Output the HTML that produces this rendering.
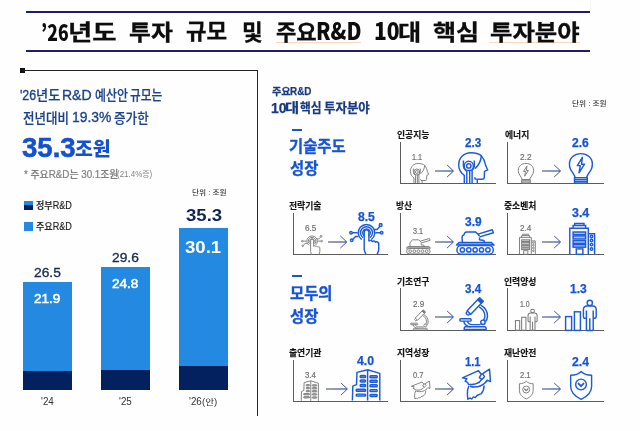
<!DOCTYPE html>
<html lang="ko"><head><meta charset="utf-8"><title>'26년도 투자 규모 및 주요R&amp;D 10대 핵심 투자분야</title>
<style>
html,body{margin:0;padding:0}
body{width:640px;height:431px;position:relative;overflow:hidden;background:#fefefe;font-family:"Liberation Sans","Noto Sans CJK KR",sans-serif}
.t{position:absolute;white-space:pre;transform-origin:0 0;margin:0}
h1,h2,section{margin:0;padding:0;font:inherit;display:contents}
.r{position:absolute}
svg{position:absolute;overflow:visible}
</style></head>
<body>
<div class="r" style="left:17px;top:0;width:573px;height:9px;background:#fff;border-right:1px solid #f4f4f4"></div>
<div class="r" style="left:26px;top:11px;width:564px;height:2px;background:#1d1d6b"></div>
<div class="r" style="left:26px;top:50px;width:564px;height:2px;background:#1d1d6b"></div>
<div class="r" style="left:276px;top:42px;width:85px;height:1px;background:#f6dcc4"></div>
<div class="r" style="left:489px;top:42px;width:91px;height:1px;background:#f6dcc4"></div>
<!-- left panel frame -->
<div class="r" style="left:19.5px;top:68px;width:5px;height:5px;background:#111"></div>
<div class="r" style="left:22px;top:70px;width:236px;height:1px;background:#222"></div>
<div class="r" style="left:257px;top:70px;width:1px;height:346px;background:#222"></div>
<!-- legend -->
<div class="r" style="left:24px;top:201px;width:9px;height:9px;background:linear-gradient(#2489e0 0,#2489e0 40%,#03205f 40%,#03205f 100%)"></div>
<div class="r" style="left:24px;top:222px;width:9px;height:9px;background:#2489e0"></div>
<!-- bars -->
<div class="r" style="left:22.5px;top:282px;width:49.5px;height:108px;background:#2489e0"></div>
<div class="r" style="left:22.5px;top:370.5px;width:49.5px;height:19.5px;background:#03205f"></div>
<div class="r" style="left:101px;top:267px;width:49px;height:123px;background:#2489e0"></div>
<div class="r" style="left:101px;top:369.5px;width:49px;height:20.5px;background:#03205f"></div>
<div class="r" style="left:179px;top:228px;width:49px;height:162px;background:#2489e0"></div>
<div class="r" style="left:179px;top:365.5px;width:49px;height:24.5px;background:#03205f"></div>
<!-- category dashes -->
<div class="r" style="left:292px;top:128.5px;width:10px;height:2px;background:#1755d5"></div>
<div class="r" style="left:292.2px;top:274.8px;width:9.8px;height:2px;background:#1755d5"></div>
<div class="r" style="left:399.9px;top:142px;width:1px;height:41.7px;background:#5c5c5c"></div>
<div class="r" style="left:399.9px;top:182.7px;width:96.1px;height:1px;background:#5c5c5c"></div>
<svg style="left:435.1px;top:163.55px" width="19.5" height="14" viewBox="0 0 19.5 14"><rect x="0" y="6.45" width="17.9" height="1.1" fill="url(#ag)"/><path d="M12.0,0.9 L18.5,7 L12.0,13.1" fill="none" stroke="url(#ag2)" stroke-width="0.95"/></svg>
<div class="r" style="left:507.2px;top:142px;width:1px;height:41.7px;background:#5c5c5c"></div>
<div class="r" style="left:507.2px;top:182.7px;width:96.8px;height:1px;background:#5c5c5c"></div>
<svg style="left:542.4px;top:163.55px" width="19.6" height="14" viewBox="0 0 19.6 14"><rect x="0" y="6.45" width="18.0" height="1.1" fill="url(#ag)"/><path d="M12.1,0.9 L18.6,7 L12.1,13.1" fill="none" stroke="url(#ag2)" stroke-width="0.95"/></svg>
<div class="r" style="left:293.1px;top:213px;width:1px;height:42.1px;background:#5c5c5c"></div>
<div class="r" style="left:293.1px;top:254.1px;width:95.4px;height:1px;background:#5c5c5c"></div>
<svg style="left:328.2px;top:234.65px" width="19.8" height="14" viewBox="0 0 19.8 14"><rect x="0" y="6.45" width="18.2" height="1.1" fill="url(#ag)"/><path d="M12.3,0.9 L18.8,7 L12.3,13.1" fill="none" stroke="url(#ag2)" stroke-width="0.95"/></svg>
<div class="r" style="left:399.9px;top:213px;width:1px;height:42.1px;background:#5c5c5c"></div>
<div class="r" style="left:399.9px;top:254.1px;width:96.1px;height:1px;background:#5c5c5c"></div>
<svg style="left:435.1px;top:234.65px" width="19.5" height="14" viewBox="0 0 19.5 14"><rect x="0" y="6.45" width="17.9" height="1.1" fill="url(#ag)"/><path d="M12.0,0.9 L18.5,7 L12.0,13.1" fill="none" stroke="url(#ag2)" stroke-width="0.95"/></svg>
<div class="r" style="left:507.2px;top:213px;width:1px;height:42.1px;background:#5c5c5c"></div>
<div class="r" style="left:507.2px;top:254.1px;width:96.8px;height:1px;background:#5c5c5c"></div>
<svg style="left:542.4px;top:234.65px" width="19.6" height="14" viewBox="0 0 19.6 14"><rect x="0" y="6.45" width="18.0" height="1.1" fill="url(#ag)"/><path d="M12.1,0.9 L18.6,7 L12.1,13.1" fill="none" stroke="url(#ag2)" stroke-width="0.95"/></svg>
<div class="r" style="left:399.9px;top:288.2px;width:1px;height:42.6px;background:#5c5c5c"></div>
<div class="r" style="left:399.9px;top:329.8px;width:96.1px;height:1px;background:#5c5c5c"></div>
<svg style="left:435.1px;top:310.35px" width="19.5" height="14" viewBox="0 0 19.5 14"><rect x="0" y="6.45" width="17.9" height="1.1" fill="url(#ag)"/><path d="M12.0,0.9 L18.5,7 L12.0,13.1" fill="none" stroke="url(#ag2)" stroke-width="0.95"/></svg>
<div class="r" style="left:507.2px;top:288.2px;width:1px;height:42.6px;background:#5c5c5c"></div>
<div class="r" style="left:507.2px;top:329.8px;width:96.8px;height:1px;background:#5c5c5c"></div>
<svg style="left:542.4px;top:310.35px" width="19.6" height="14" viewBox="0 0 19.6 14"><rect x="0" y="6.45" width="18.0" height="1.1" fill="url(#ag)"/><path d="M12.1,0.9 L18.6,7 L12.1,13.1" fill="none" stroke="url(#ag2)" stroke-width="0.95"/></svg>
<div class="r" style="left:293.1px;top:360px;width:1px;height:41.9px;background:#5c5c5c"></div>
<div class="r" style="left:293.1px;top:400.9px;width:95.4px;height:1px;background:#5c5c5c"></div>
<svg style="left:325.6px;top:381.6px" width="22.4" height="14" viewBox="0 0 22.4 14"><rect x="0" y="6.45" width="20.8" height="1.1" fill="url(#ag)"/><path d="M14.9,0.9 L21.4,7 L14.9,13.1" fill="none" stroke="url(#ag2)" stroke-width="0.95"/></svg>
<div class="r" style="left:399.9px;top:360px;width:1px;height:41.9px;background:#5c5c5c"></div>
<div class="r" style="left:399.9px;top:400.9px;width:96.1px;height:1px;background:#5c5c5c"></div>
<svg style="left:435.1px;top:381.6px" width="19.5" height="14" viewBox="0 0 19.5 14"><rect x="0" y="6.45" width="17.9" height="1.1" fill="url(#ag)"/><path d="M12.0,0.9 L18.5,7 L12.0,13.1" fill="none" stroke="url(#ag2)" stroke-width="0.95"/></svg>
<div class="r" style="left:507.2px;top:360px;width:1px;height:41.9px;background:#5c5c5c"></div>
<div class="r" style="left:507.2px;top:400.9px;width:96.8px;height:1px;background:#5c5c5c"></div>
<svg style="left:542.4px;top:381.6px" width="19.6" height="14" viewBox="0 0 19.6 14"><rect x="0" y="6.45" width="18.0" height="1.1" fill="url(#ag)"/><path d="M12.1,0.9 L18.6,7 L12.1,13.1" fill="none" stroke="url(#ag2)" stroke-width="0.95"/></svg>
<svg width="0" height="0" style="position:absolute"><defs><symbol id="i-ai" viewBox="0 0 30 31" preserveAspectRatio="none" overflow="visible"><g fill="none" stroke="currentColor">
<path d="M6.3,23.2 C2.6,20.8 0.7,17 0.7,13 C0.7,5.6 6,0.7 13,0.7 C17.2,0.7 21,1.7 23.3,3.6 C25.6,6.4 27,9.8 27.5,13 L29.6,17.8 L26.5,19.4 L26.3,25.6 Q26.1,27.2 24,27.2 L17.3,27 L16.6,25.3"/>
<path d="M19.3,27.3 V31"/>
<path d="M23.3,3.6 C23,9 20.6,13.4 17,16.6"/>
<circle cx="10.8" cy="13.9" r="4.6"/><circle cx="10.8" cy="13.9" r="2.2"/>
<path d="M5.4,8.6 V14.2 C5.6,16.4 6.8,18 8.2,19 M16.3,8.6 V14.2 C16.1,16.4 14.9,18 13.5,19"/>
<path d="M6.3,23 V31 M8.8,19 V31 M11.7,18.6 V31 M14.1,18.6 V31"/>
</g></symbol><symbol id="i-bulb" viewBox="0 0 23.8 30.7" preserveAspectRatio="none" overflow="visible"><g fill="none" stroke="currentColor">
<path d="M5.9,24.6 V23.7 C4.7,20.4 2.3,18.4 1.2,15.4 C0.6,13.8 0.45,12.2 0.45,10.9 C0.45,4.9 5.4,0.6 11.9,0.6 C18.4,0.6 23.35,4.9 23.35,10.9 C23.35,12.2 23.2,13.8 22.6,15.4 C21.5,18.4 19.1,20.4 17.9,23.7 V24.6"/>
<path d="M5.5,24.7 H18.3 V30.2 H5.5 Z M5.5,26.6 H18.3 M5.5,28.5 H18.3" />
<path d="M13.4,4.4 L8.3,12.6 H11.3 L10,19.8 L15.5,11.2 H12.5 Z" stroke-linejoin="round"/>
</g></symbol><symbol id="i-touch" viewBox="0 0 34.7 31.6" preserveAspectRatio="none" overflow="visible"><g fill="none" stroke="currentColor"><path d="M12.74,16.60 A8.3,8.3 0 1 1 22.26,16.60"/><path d="M14.06,14.71 A6.0,6.0 0 1 1 20.94,14.71"/><path d="M15.32,12.91 A3.8,3.8 0 1 1 19.68,12.91"/>
<path d="M15.2,26.5 V9.2 A2.35,2.35 0 0 1 19.9,9.2 V18 C21,17 22.7,17.2 23.2,18.6 C24.3,17.6 25.9,17.9 26.4,19.2 C27.6,18.4 29.7,18.9 29.7,20.8 V26.5 C29.7,28.3 28.8,29.6 28.2,31.2 M15.2,26.5 C15.4,28.2 16.2,29.8 16.9,31.2" stroke-linejoin="round"/>
<path d="M3.2,9.8 H8.6 M26.2,9.8 H31.4 M3.6,16.4 L6.6,13.4 H9.4 M25,6.4 H28 L30.8,3.4"/>
<circle cx="2" cy="9.8" r="1.25"/><circle cx="32.7" cy="9.8" r="1.25"/><circle cx="2.7" cy="17.3" r="1.25"/><rect x="30.4" y="0.8" width="2.5" height="2.5" rx="0.6"/>
</g></symbol><symbol id="i-tank" viewBox="0 0 39 25.2" preserveAspectRatio="none" overflow="visible"><g fill="none" stroke="currentColor"><rect x="0.9" y="16.6" width="36.4" height="8.6" rx="4.3"/><circle cx="6.4" cy="20.9" r="2.15"/><circle cx="12.8" cy="20.9" r="2.15"/><circle cx="19.1" cy="20.9" r="2.15"/><circle cx="25.5" cy="20.9" r="2.15"/><circle cx="31.9" cy="20.9" r="2.15"/>
<path d="M0.5,16 L3,13.5 H35.4 L38,16 Z" stroke-linejoin="round" fill="currentColor" fill-opacity="0.45"/>
<path d="M6.4,13.4 L6,8 Q6.2,6.6 7.8,6 L8.8,3.9 Q9.4,2.9 10.6,2.9 H19.4 L21.6,4.8 L23.6,7.2 M23.5,8.4 V10.8 L27.9,11.5 L28.6,13.4" stroke-linejoin="round"/>
<path d="M22,5.1 L36.3,0.8 L37.4,3.7 L23.7,7.9" stroke-linejoin="round"/>
</g></symbol><symbol id="i-bldg1" viewBox="0 0 25.9 31.6" preserveAspectRatio="none" overflow="visible"><g fill="none" stroke="currentColor">
<path d="M0.8,31.3 V5.2 H19.3 V31.3 M4.1,5.2 V2.5 H16.6 V5.2 M5.7,2.5 V0.4 H15 V2.5"/>
<path d="M19.3,10.7 H25.6 V31.3"/>
<rect x="7.3" y="25.9" width="6.6" height="5.4"/>
<rect x="4.1" y="9" width="12.5" height="2.7" fill="currentColor" fill-opacity="0.35"/><rect x="4.1" y="12.9" width="12.5" height="3.1" fill="currentColor" fill-opacity="0.35"/><rect x="4.1" y="17.6" width="12.5" height="2.8" fill="currentColor" fill-opacity="0.35"/><rect x="4.1" y="21.6" width="12.5" height="2.6" fill="currentColor" fill-opacity="0.35"/><circle cx="22.5" cy="13.4" r="1.25"/><circle cx="22.5" cy="17.4" r="1.25"/><circle cx="22.5" cy="21.6" r="1.25"/><circle cx="22.5" cy="26" r="1.25"/></g></symbol><symbol id="i-micro" viewBox="0 0 29.5 31.8" preserveAspectRatio="none" overflow="visible"><g fill="none" stroke="currentColor">
<path d="M8.1,12.7 L18.8,1.6 L22.5,5.1 L11.8,16.2 Z" stroke-linejoin="round"/>
<path d="M18.8,1.6 L20.6,-0.2 L24.3,3.3 L22.5,5.1 Z" fill="currentColor" stroke-linejoin="round"/>
<path d="M8.6,13.2 L7.3,14.6 Q6.9,15.6 7.9,16.5 Q8.9,17.3 9.8,16.9 L11.2,15.6" />
<path d="M21.6,7.2 C26,9.5 28.6,14 28.4,18.6 C28.3,20.6 27.6,22.4 26.3,23.6 M20,8.9 C23.6,10.8 25.9,14.4 25.8,18.4 C25.8,19.8 25.3,21.2 24.4,22.2"/>
<circle cx="23.9" cy="24.3" r="2.2"/>
<rect x="0.9" y="20.8" width="11.2" height="2.3" rx="0.8"/>
<path d="M4.6,23.1 C5.4,26.5 8.4,28.7 12,28.7 M8.4,23.1 C9,25.3 10.8,26.6 13.2,26.6 H21.6"/>
<path d="M6.6,28.8 H25.6 Q27,28.8 27,30.2 V31.4 H5.2 V30.2 Q5.2,28.8 6.6,28.8 Z"/>
</g></symbol><symbol id="i-people" viewBox="0 0 32.3 30.8" preserveAspectRatio="none" overflow="visible"><g fill="none" stroke="currentColor">
<rect x="0.6" y="16.6" width="6" height="13.8"/>
<rect x="9.4" y="11.8" width="6" height="18.6"/>
<circle cx="24.8" cy="2.9" r="2.6"/>
<path d="M21.4,30.4 V17.6 V10.6 M21.4,17.8 C20.6,18.6 18.4,18.6 18.4,16.4 V9.8 C18.4,7.2 20,5.9 22,5.9 H27.6 C29.6,5.9 31.2,7.2 31.2,9.8 V16.4 C31.2,18.6 29,18.6 28.2,17.8 M28.2,10.6 V30.4 M24.8,18.2 V30.4 M21.4,30.4 H24.8 M24.8,30.4 H28.2" stroke-linejoin="round"/>
</g></symbol><symbol id="i-bldg2" viewBox="0 0 28.4 30.8" preserveAspectRatio="none" overflow="visible"><g fill="none" stroke="currentColor">
<path d="M15.6,-0.3 V30.6 M15.6,-0.3 L5,2.4 L4.5,14.6 L0.8,16.2 L0.4,30.6 M15.6,-0.3 L27.8,3.4 V30.6" stroke-linejoin="round"/>
<rect x="8.2" y="5.5" width="5.4" height="2" rx="0.8" fill="currentColor" fill-opacity="0.55"/><rect x="18" y="5.800000000000001" width="7.2" height="2" rx="0.8" fill="currentColor" fill-opacity="0.55"/><rect x="8.2" y="9.9" width="5.4" height="2" rx="0.8" fill="currentColor" fill-opacity="0.55"/><rect x="18" y="10.200000000000001" width="7.2" height="2" rx="0.8" fill="currentColor" fill-opacity="0.55"/><rect x="8.2" y="14.5" width="5.4" height="2" rx="0.8" fill="currentColor" fill-opacity="0.55"/><rect x="18" y="14.8" width="7.2" height="2" rx="0.8" fill="currentColor" fill-opacity="0.55"/><rect x="4.2" y="19.3" width="9.4" height="2" rx="0.8" fill="currentColor" fill-opacity="0.55"/><rect x="18" y="19.599999999999998" width="7.2" height="2" rx="0.8" fill="currentColor" fill-opacity="0.55"/><rect x="4.2" y="24.1" width="9.4" height="2" rx="0.8" fill="currentColor" fill-opacity="0.55"/><rect x="18" y="24.4" width="7.2" height="2" rx="0.8" fill="currentColor" fill-opacity="0.55"/></g></symbol><symbol id="i-map" viewBox="0 0 28.9 31" preserveAspectRatio="none" overflow="visible"><g fill="none" stroke="currentColor">
<path d="M6.4,15.6 L5.8,13.6 L3.1,12.2 L4.9,9.8 L0.4,8.9 L16.5,1.7 L19.3,5.2 L17.4,8.6 L19.8,10.3 C17.6,14.2 12,16.4 6.4,15.2" stroke-linejoin="round"/>
<path d="M19.3,5.2 L20.7,4.7 L27.6,0.2 L28.5,12.6 L25.2,11.2 C22.6,16.2 15,19.6 8,17.2 M20.7,4.7 L22.5,7.6 C21.8,8.8 20.9,9.8 19.8,10.6" stroke-linejoin="round"/>
<path d="M6.9,16.8 C5.8,19.4 5.2,22.6 5.4,25 L5.8,30.2 L8.2,29 L9.6,30 L11.4,27.9 L13.3,28.6 L15.1,26.5 L19.3,24.7 C21.2,22.6 22.1,20 22.1,16.6" stroke-linejoin="round"/>
</g></symbol><symbol id="i-shield" viewBox="0 0 22.9 29.4" preserveAspectRatio="none" overflow="visible"><g fill="none" stroke="currentColor">
<path d="M11.45,0.5 C9,3 5,4.4 0.7,4.4 V15.6 C0.7,21.6 5,26 11.45,29 C17.9,26 22.2,21.6 22.2,15.6 V4.4 C17.9,4.4 13.9,3 11.45,0.5 Z" stroke-linejoin="round"/>
<circle cx="11.3" cy="13.8" r="5.5"/>
<path d="M8.7,12.9 L11.3,15.6 L13.9,12.9" stroke-linejoin="round" stroke-linecap="round" stroke-width="1.9"/>
</g></symbol><linearGradient id="ag" x1="0" x2="1" y1="0" y2="0"><stop offset="0" stop-color="#555"/><stop offset="0.5" stop-color="#2f4a88"/><stop offset="1" stop-color="#1d3f98"/></linearGradient><linearGradient id="ag2" x1="0" x2="1" y1="0" y2="0"><stop offset="0" stop-color="#5a5f6e"/><stop offset="1" stop-color="#1d3f98"/></linearGradient></defs></svg>
<svg class="ic" style="left:409.80px;top:163.00px;color:#7a7a7a;stroke-width:1.45" width="18.90" height="20.00"><use href="#i-ai" width="18.90" height="20.00"/></svg>
<svg class="ic" style="left:458.00px;top:152.00px;color:#1d5bd8;stroke-width:1.45" width="30.00" height="31.00"><use href="#i-ai" width="30.00" height="31.00"/></svg>
<svg class="ic" style="left:517.80px;top:162.60px;color:#7a7a7a;stroke-width:1.45" width="15.90" height="20.50"><use href="#i-bulb" width="15.90" height="20.50"/></svg>
<svg class="ic" style="left:568.90px;top:152.60px;color:#1d5bd8;stroke-width:1.45" width="23.80" height="30.70"><use href="#i-bulb" width="23.80" height="30.70"/></svg>
<svg class="ic" style="left:301.00px;top:235.00px;color:#7a7a7a;stroke-width:1.45" width="22.00" height="19.80"><use href="#i-touch" width="22.00" height="19.80"/></svg>
<svg class="ic" style="left:348.70px;top:223.40px;color:#1d5bd8;stroke-width:1.45" width="34.70" height="31.60"><use href="#i-touch" width="34.70" height="31.60"/></svg>
<svg class="ic" style="left:405.80px;top:238.00px;color:#7a7a7a;stroke-width:1.45" width="25.20" height="15.90"><use href="#i-tank" width="25.20" height="15.90"/></svg>
<svg class="ic" style="left:456.00px;top:229.40px;color:#1d5bd8;stroke-width:1.45" width="39.00" height="25.20"><use href="#i-tank" width="39.00" height="25.20"/></svg>
<svg class="ic" style="left:519.00px;top:234.00px;color:#7a7a7a;stroke-width:1.45" width="16.50" height="20.40"><use href="#i-bldg1" width="16.50" height="20.40"/></svg>
<svg class="ic" style="left:569.00px;top:223.20px;color:#1d5bd8;stroke-width:1.45" width="25.90" height="31.60"><use href="#i-bldg1" width="25.90" height="31.60"/></svg>
<svg class="ic" style="left:409.80px;top:310.00px;color:#7a7a7a;stroke-width:1.45" width="18.90" height="20.20"><use href="#i-micro" width="18.90" height="20.20"/></svg>
<svg class="ic" style="left:458.75px;top:298.40px;color:#1d5bd8;stroke-width:1.45" width="29.55" height="31.80"><use href="#i-micro" width="29.55" height="31.80"/></svg>
<svg class="ic" style="left:515.00px;top:308.70px;color:#7a7a7a;stroke-width:1.45" width="22.90" height="21.50"><use href="#i-people" width="22.90" height="21.50"/></svg>
<svg class="ic" style="left:565.00px;top:299.50px;color:#1d5bd8;stroke-width:1.45" width="32.30" height="30.80"><use href="#i-people" width="32.30" height="30.80"/></svg>
<svg class="ic" style="left:301.25px;top:381.20px;color:#7a7a7a;stroke-width:1.45" width="17.75" height="20.00"><use href="#i-bldg2" width="17.75" height="20.00"/></svg>
<svg class="ic" style="left:351.60px;top:370.40px;color:#1d5bd8;stroke-width:1.45" width="28.40" height="30.80"><use href="#i-bldg2" width="28.40" height="30.80"/></svg>
<svg class="ic" style="left:410.60px;top:381.20px;color:#7a7a7a;stroke-width:1.45" width="19.30" height="18.40"><use href="#i-map" width="19.30" height="18.40"/></svg>
<svg class="ic" style="left:461.75px;top:369.00px;color:#1d5bd8;stroke-width:1.45" width="28.85" height="31.00"><use href="#i-map" width="28.85" height="31.00"/></svg>
<svg class="ic" style="left:518.60px;top:380.70px;color:#7a7a7a;stroke-width:1.45" width="14.60" height="18.20"><use href="#i-shield" width="14.60" height="18.20"/></svg>
<svg class="ic" style="left:569.90px;top:371.20px;color:#1d5bd8;stroke-width:1.45" width="22.30" height="28.70"><use href="#i-shield" width="22.30" height="28.70"/></svg>
<h1>
<span class="t" style="left:40.53px;top:20.06px;font:900 22.04px/1 'Noto Sans CJK KR','Liberation Sans',sans-serif;color:#0d0d0d;transform:scaleX(0.798);">’26</span>
<span class="t" style="left:67.80px;top:22.24px;font:700 21.63px/1 'Liberation Sans','Noto Sans CJK KR',sans-serif;color:#0d0d0d;transform:scaleX(1.220);-webkit-text-stroke:0.3px currentColor;">년도</span>
<span class="t" style="left:129.21px;top:21.88px;font:700 21.63px/1 'Liberation Sans','Noto Sans CJK KR',sans-serif;color:#0d0d0d;transform:scaleX(1.102);-webkit-text-stroke:0.3px currentColor;">투자</span>
<span class="t" style="left:186.25px;top:21.34px;font:700 21.63px/1 'Liberation Sans','Noto Sans CJK KR',sans-serif;color:#0d0d0d;transform:scaleX(1.033);-webkit-text-stroke:0.3px currentColor;">규모</span>
<span class="t" style="left:241.88px;top:22.06px;font:700 21.63px/1 'Liberation Sans','Noto Sans CJK KR',sans-serif;color:#0d0d0d;transform:scaleX(1.040);-webkit-text-stroke:0.3px currentColor;">및</span>
<span class="t" style="left:275.76px;top:21.52px;font:700 21.63px/1 'Liberation Sans','Noto Sans CJK KR',sans-serif;color:#0d0d0d;transform:scaleX(1.023);-webkit-text-stroke:0.3px currentColor;">주요</span>
<span class="t" style="left:315.88px;top:19.11px;font:900 23.36px/1 'Noto Sans CJK KR','Liberation Sans',sans-serif;color:#0d0d0d;transform:scaleX(0.882);">R&amp;D</span>
<span class="t" style="left:373.64px;top:18.94px;font:900 23.22px/1 'Noto Sans CJK KR','Liberation Sans',sans-serif;color:#0d0d0d;transform:scaleX(0.908);">10</span>
<span class="t" style="left:397.92px;top:22.06px;font:700 21.63px/1 'Liberation Sans','Noto Sans CJK KR',sans-serif;color:#0d0d0d;transform:scaleX(1.164);-webkit-text-stroke:0.3px currentColor;">대</span>
<span class="t" style="left:432.91px;top:22.06px;font:700 21.63px/1 'Liberation Sans','Noto Sans CJK KR',sans-serif;color:#0d0d0d;transform:scaleX(1.162);-webkit-text-stroke:0.3px currentColor;">핵심</span>
<span class="t" style="left:489.79px;top:21.88px;font:700 21.63px/1 'Liberation Sans','Noto Sans CJK KR',sans-serif;color:#0d0d0d;transform:scaleX(1.127);-webkit-text-stroke:0.3px currentColor;">투자분야</span>
</h1>
<section>
<span class="t" style="left:19.98px;top:87.96px;font:400 14.93px/1 'Liberation Sans','Noto Sans CJK KR',sans-serif;color:#1c428c;transform:scaleX(0.832);-webkit-text-stroke:0.35px currentColor;">'26</span>
<span class="t" style="left:35.68px;top:89.29px;font:500 13.58px/1 'Liberation Sans','Noto Sans CJK KR',sans-serif;color:#1c428c;transform:scaleX(0.974);-webkit-text-stroke:0.2px currentColor;">년도</span>
<span class="t" style="left:62.03px;top:87.96px;font:400 14.93px/1 'Liberation Sans','Noto Sans CJK KR',sans-serif;color:#1c428c;transform:scaleX(0.939);-webkit-text-stroke:0.35px currentColor;">R&amp;D</span>
<span class="t" style="left:94.90px;top:89.29px;font:500 13.58px/1 'Liberation Sans','Noto Sans CJK KR',sans-serif;color:#1c428c;transform:scaleX(0.878);-webkit-text-stroke:0.2px currentColor;">예산안</span>
<span class="t" style="left:130.41px;top:88.95px;font:500 13.58px/1 'Liberation Sans','Noto Sans CJK KR',sans-serif;color:#1c428c;transform:scaleX(0.864);-webkit-text-stroke:0.2px currentColor;">규모는</span>
<span class="t" style="left:23.12px;top:111.67px;font:500 13.58px/1 'Liberation Sans','Noto Sans CJK KR',sans-serif;color:#1c428c;transform:scaleX(0.920);-webkit-text-stroke:0.2px currentColor;">전년대비</span>
<span class="t" style="left:72.04px;top:110.46px;font:400 14.93px/1 'Liberation Sans','Noto Sans CJK KR',sans-serif;color:#1c428c;transform:scaleX(0.932);-webkit-text-stroke:0.35px currentColor;">19.3%</span>
<span class="t" style="left:114.37px;top:111.79px;font:500 13.58px/1 'Liberation Sans','Noto Sans CJK KR',sans-serif;color:#1c428c;transform:scaleX(0.926);-webkit-text-stroke:0.2px currentColor;">증가한</span>
<span class="t" style="left:21.58px;top:134.98px;font:700 26.78px/1 'Liberation Sans','Noto Sans CJK KR',sans-serif;color:#1450d2;transform:scaleX(1.031);-webkit-text-stroke:0.5px currentColor;">35.3</span>
<span class="t" style="left:75.35px;top:140.12px;font:900 19.29px/1 'Liberation Sans','Noto Sans CJK KR',sans-serif;color:#1450d2;transform:scaleX(1.007);">조원</span>
<span class="t" style="left:23.84px;top:169.80px;font:500 10.47px/1 'Liberation Sans','Noto Sans CJK KR',sans-serif;color:#828282;transform:scaleX(0.939);-webkit-text-stroke:0.2px currentColor;">* 주요R&amp;D는 30.1조원</span>
<span class="t" style="left:117.27px;top:171.19px;font:400 8.14px/1 'Liberation Sans','Noto Sans CJK KR',sans-serif;color:#828282;transform:scaleX(0.981);">(21.4%증)</span>
<span class="t" style="left:192.21px;top:189.50px;font:500 7.09px/1 'Liberation Sans','Noto Sans CJK KR',sans-serif;color:#3a3a3a;transform:scaleX(1.084);">단위 : 조원</span>
<span class="t" style="left:35.55px;top:201.37px;font:500 10.10px/1 'Liberation Sans','Noto Sans CJK KR',sans-serif;color:#222;transform:scaleX(0.900);-webkit-text-stroke:0.15px currentColor;">정부R&amp;D</span>
<span class="t" style="left:35.55px;top:222.12px;font:500 10.10px/1 'Liberation Sans','Noto Sans CJK KR',sans-serif;color:#222;transform:scaleX(0.900);-webkit-text-stroke:0.15px currentColor;">주요R&amp;D</span>
<span class="t" style="left:34.31px;top:266.02px;font:400 13.17px/1 'Liberation Sans','Noto Sans CJK KR',sans-serif;color:#1b2a4e;transform:scaleX(1.047);-webkit-text-stroke:0.35px currentColor;">26.5</span>
<span class="t" style="left:34.32px;top:292.02px;font:400 13.17px/1 'Liberation Sans','Noto Sans CJK KR',sans-serif;color:#fff;transform:scaleX(1.026);-webkit-text-stroke:0.55px currentColor;">21.9</span>
<span class="t" style="left:111.81px;top:251.02px;font:400 13.17px/1 'Liberation Sans','Noto Sans CJK KR',sans-serif;color:#1b2a4e;transform:scaleX(1.047);-webkit-text-stroke:0.35px currentColor;">29.6</span>
<span class="t" style="left:112.32px;top:277.02px;font:400 13.17px/1 'Liberation Sans','Noto Sans CJK KR',sans-serif;color:#fff;transform:scaleX(1.026);-webkit-text-stroke:0.55px currentColor;">24.8</span>
<span class="t" style="left:185.63px;top:206.80px;font:700 17.20px/1 'Liberation Sans','Noto Sans CJK KR',sans-serif;color:#0f2557;transform:scaleX(1.081);">35.3</span>
<span class="t" style="left:184.88px;top:239.05px;font:700 17.20px/1 'Liberation Sans','Noto Sans CJK KR',sans-serif;color:#fff;transform:scaleX(1.081);">30.1</span>
<span class="t" style="left:41.01px;top:396.86px;font:400 10.24px/1 'Liberation Sans','Noto Sans CJK KR',sans-serif;color:#333;transform:scaleX(0.962);">'24</span>
<span class="t" style="left:118.76px;top:396.86px;font:400 10.24px/1 'Liberation Sans','Noto Sans CJK KR',sans-serif;color:#333;transform:scaleX(0.962);">'25</span>
<span class="t" style="left:189.25px;top:396.86px;font:400 10.24px/1 'Liberation Sans','Noto Sans CJK KR',sans-serif;color:#333;transform:scaleX(0.962);">'26</span>
<span class="t" style="left:201.56px;top:397.50px;font:400 8.52px/1 'Liberation Sans','Noto Sans CJK KR',sans-serif;color:#333;transform:scaleX(1.134);">(안)</span>
</section>
<h2>
<span class="t" style="left:271.66px;top:87.07px;font:700 9.96px/1 'Liberation Sans','Noto Sans CJK KR',sans-serif;color:#183a80;transform:scaleX(1.023);-webkit-text-stroke:0.25px currentColor;">주요</span>
<span class="t" style="left:290.14px;top:86.49px;font:700 11.41px/1 'Liberation Sans','Noto Sans CJK KR',sans-serif;color:#183a80;transform:scaleX(0.865);-webkit-text-stroke:0.25px currentColor;">R&amp;D</span>
<span class="t" style="left:270.67px;top:100.47px;font:700 15.51px/1 'Liberation Sans','Noto Sans CJK KR',sans-serif;color:#183a80;transform:scaleX(0.903);-webkit-text-stroke:0.25px currentColor;">10</span>
<span class="t" style="left:285.17px;top:102.24px;font:700 12.57px/1 'Liberation Sans','Noto Sans CJK KR',sans-serif;color:#183a80;transform:scaleX(1.225);-webkit-text-stroke:0.25px currentColor;">대</span>
<span class="t" style="left:300.11px;top:102.24px;font:700 12.57px/1 'Liberation Sans','Noto Sans CJK KR',sans-serif;color:#183a80;transform:scaleX(0.936);-webkit-text-stroke:0.25px currentColor;">핵심</span>
<span class="t" style="left:324.09px;top:102.14px;font:700 12.57px/1 'Liberation Sans','Noto Sans CJK KR',sans-serif;color:#183a80;transform:scaleX(0.990);-webkit-text-stroke:0.25px currentColor;">투자분야</span>
<span class="t" style="left:571.51px;top:100.50px;font:500 7.09px/1 'Liberation Sans','Noto Sans CJK KR',sans-serif;color:#3a3a3a;transform:scaleX(1.084);">단위 : 조원</span>
</h2>
<section>
<span class="t" style="left:289.40px;top:139.31px;font:700 15.41px/1 'Liberation Sans','Noto Sans CJK KR',sans-serif;color:#1553d8;transform:scaleX(0.999);-webkit-text-stroke:0.35px currentColor;">기술주도</span>
<span class="t" style="left:289.66px;top:160.51px;font:700 15.41px/1 'Liberation Sans','Noto Sans CJK KR',sans-serif;color:#1553d8;transform:scaleX(0.999);-webkit-text-stroke:0.35px currentColor;">성장</span>
<span class="t" style="left:396.69px;top:131.40px;font:700 9.37px/1 'Liberation Sans','Noto Sans CJK KR',sans-serif;color:#161616;transform:scaleX(0.942);-webkit-text-stroke:0.15px currentColor;">인공지능</span>
<span class="t" style="left:412.40px;top:153.06px;font:400 8.93px/1 'Liberation Sans','Noto Sans CJK KR',sans-serif;color:#707070;transform:scaleX(0.807);-webkit-text-stroke:0.2px currentColor;">1.1</span>
<span class="t" style="left:465.21px;top:137.25px;font:700 12.51px/1 'Liberation Sans','Noto Sans CJK KR',sans-serif;color:#1553d8;transform:scaleX(0.935);-webkit-text-stroke:0.25px currentColor;">2.3</span>
<span class="t" style="left:504.53px;top:131.40px;font:700 9.37px/1 'Liberation Sans','Noto Sans CJK KR',sans-serif;color:#161616;transform:scaleX(0.942);-webkit-text-stroke:0.15px currentColor;">에너지</span>
<span class="t" style="left:519.59px;top:152.91px;font:400 8.93px/1 'Liberation Sans','Noto Sans CJK KR',sans-serif;color:#707070;transform:scaleX(0.925);-webkit-text-stroke:0.2px currentColor;">2.2</span>
<span class="t" style="left:571.59px;top:137.35px;font:700 12.51px/1 'Liberation Sans','Noto Sans CJK KR',sans-serif;color:#1553d8;transform:scaleX(0.971);-webkit-text-stroke:0.25px currentColor;">2.6</span>
<span class="t" style="left:289.12px;top:202.23px;font:700 9.37px/1 'Liberation Sans','Noto Sans CJK KR',sans-serif;color:#161616;transform:scaleX(0.942);-webkit-text-stroke:0.15px currentColor;">전략기술</span>
<span class="t" style="left:304.60px;top:224.46px;font:400 8.93px/1 'Liberation Sans','Noto Sans CJK KR',sans-serif;color:#707070;transform:scaleX(0.905);-webkit-text-stroke:0.2px currentColor;">6.5</span>
<span class="t" style="left:357.79px;top:210.65px;font:700 12.51px/1 'Liberation Sans','Noto Sans CJK KR',sans-serif;color:#1553d8;transform:scaleX(0.971);-webkit-text-stroke:0.25px currentColor;">8.5</span>
<span class="t" style="left:396.49px;top:202.15px;font:700 9.37px/1 'Liberation Sans','Noto Sans CJK KR',sans-serif;color:#161616;transform:scaleX(0.942);-webkit-text-stroke:0.15px currentColor;">방산</span>
<span class="t" style="left:412.64px;top:227.01px;font:400 8.93px/1 'Liberation Sans','Noto Sans CJK KR',sans-serif;color:#707070;transform:scaleX(0.812);-webkit-text-stroke:0.2px currentColor;">3.1</span>
<span class="t" style="left:464.60px;top:216.10px;font:700 12.51px/1 'Liberation Sans','Noto Sans CJK KR',sans-serif;color:#1553d8;transform:scaleX(0.953);-webkit-text-stroke:0.25px currentColor;">3.9</span>
<span class="t" style="left:504.49px;top:202.15px;font:700 9.37px/1 'Liberation Sans','Noto Sans CJK KR',sans-serif;color:#161616;transform:scaleX(0.942);-webkit-text-stroke:0.15px currentColor;">중소벤처</span>
<span class="t" style="left:519.59px;top:223.64px;font:400 8.93px/1 'Liberation Sans','Noto Sans CJK KR',sans-serif;color:#707070;transform:scaleX(0.910);-webkit-text-stroke:0.2px currentColor;">2.4</span>
<span class="t" style="left:571.59px;top:207.25px;font:700 12.51px/1 'Liberation Sans','Noto Sans CJK KR',sans-serif;color:#1553d8;transform:scaleX(0.992);-webkit-text-stroke:0.25px currentColor;">3.4</span>
<span class="t" style="left:289.85px;top:286.19px;font:700 15.41px/1 'Liberation Sans','Noto Sans CJK KR',sans-serif;color:#1553d8;transform:scaleX(0.999);-webkit-text-stroke:0.35px currentColor;">모두의</span>
<span class="t" style="left:289.51px;top:308.61px;font:700 15.41px/1 'Liberation Sans','Noto Sans CJK KR',sans-serif;color:#1553d8;transform:scaleX(0.999);-webkit-text-stroke:0.35px currentColor;">성장</span>
<span class="t" style="left:396.59px;top:278.05px;font:700 9.37px/1 'Liberation Sans','Noto Sans CJK KR',sans-serif;color:#161616;transform:scaleX(0.942);-webkit-text-stroke:0.15px currentColor;">기초연구</span>
<span class="t" style="left:412.80px;top:300.16px;font:400 8.93px/1 'Liberation Sans','Noto Sans CJK KR',sans-serif;color:#707070;transform:scaleX(0.899);-webkit-text-stroke:0.2px currentColor;">2.9</span>
<span class="t" style="left:464.91px;top:283.25px;font:700 12.51px/1 'Liberation Sans','Noto Sans CJK KR',sans-serif;color:#1553d8;transform:scaleX(0.929);-webkit-text-stroke:0.25px currentColor;">3.4</span>
<span class="t" style="left:504.41px;top:278.05px;font:700 9.37px/1 'Liberation Sans','Noto Sans CJK KR',sans-serif;color:#161616;transform:scaleX(0.942);-webkit-text-stroke:0.15px currentColor;">인력양성</span>
<span class="t" style="left:520.42px;top:299.71px;font:400 8.93px/1 'Liberation Sans','Noto Sans CJK KR',sans-serif;color:#707070;transform:scaleX(0.778);-webkit-text-stroke:0.2px currentColor;">1.0</span>
<span class="t" style="left:570.19px;top:283.25px;font:700 12.51px/1 'Liberation Sans','Noto Sans CJK KR',sans-serif;color:#1553d8;transform:scaleX(0.965);-webkit-text-stroke:0.25px currentColor;">1.3</span>
<span class="t" style="left:288.97px;top:349.43px;font:700 9.37px/1 'Liberation Sans','Noto Sans CJK KR',sans-serif;color:#161616;transform:scaleX(0.942);-webkit-text-stroke:0.15px currentColor;">출연기관</span>
<span class="t" style="left:304.81px;top:371.06px;font:400 8.93px/1 'Liberation Sans','Noto Sans CJK KR',sans-serif;color:#707070;transform:scaleX(0.876);-webkit-text-stroke:0.2px currentColor;">3.4</span>
<span class="t" style="left:357.40px;top:355.45px;font:700 12.51px/1 'Liberation Sans','Noto Sans CJK KR',sans-serif;color:#1553d8;transform:scaleX(0.983);-webkit-text-stroke:0.25px currentColor;">4.0</span>
<span class="t" style="left:396.69px;top:349.43px;font:700 9.37px/1 'Liberation Sans','Noto Sans CJK KR',sans-serif;color:#161616;transform:scaleX(0.942);-webkit-text-stroke:0.15px currentColor;">지역성장</span>
<span class="t" style="left:412.95px;top:371.16px;font:400 8.93px/1 'Liberation Sans','Noto Sans CJK KR',sans-serif;color:#707070;transform:scaleX(0.844);-webkit-text-stroke:0.2px currentColor;">0.7</span>
<span class="t" style="left:464.85px;top:356.05px;font:700 12.51px/1 'Liberation Sans','Noto Sans CJK KR',sans-serif;color:#1553d8;transform:scaleX(0.898);-webkit-text-stroke:0.25px currentColor;">1.1</span>
<span class="t" style="left:504.41px;top:349.43px;font:700 9.37px/1 'Liberation Sans','Noto Sans CJK KR',sans-serif;color:#161616;transform:scaleX(0.942);-webkit-text-stroke:0.15px currentColor;">재난안전</span>
<span class="t" style="left:519.62px;top:371.06px;font:400 8.93px/1 'Liberation Sans','Noto Sans CJK KR',sans-serif;color:#707070;transform:scaleX(0.855);-webkit-text-stroke:0.2px currentColor;">2.1</span>
<span class="t" style="left:571.59px;top:356.05px;font:700 12.51px/1 'Liberation Sans','Noto Sans CJK KR',sans-serif;color:#1553d8;transform:scaleX(0.977);-webkit-text-stroke:0.25px currentColor;">2.4</span>
</section>

</body></html>
